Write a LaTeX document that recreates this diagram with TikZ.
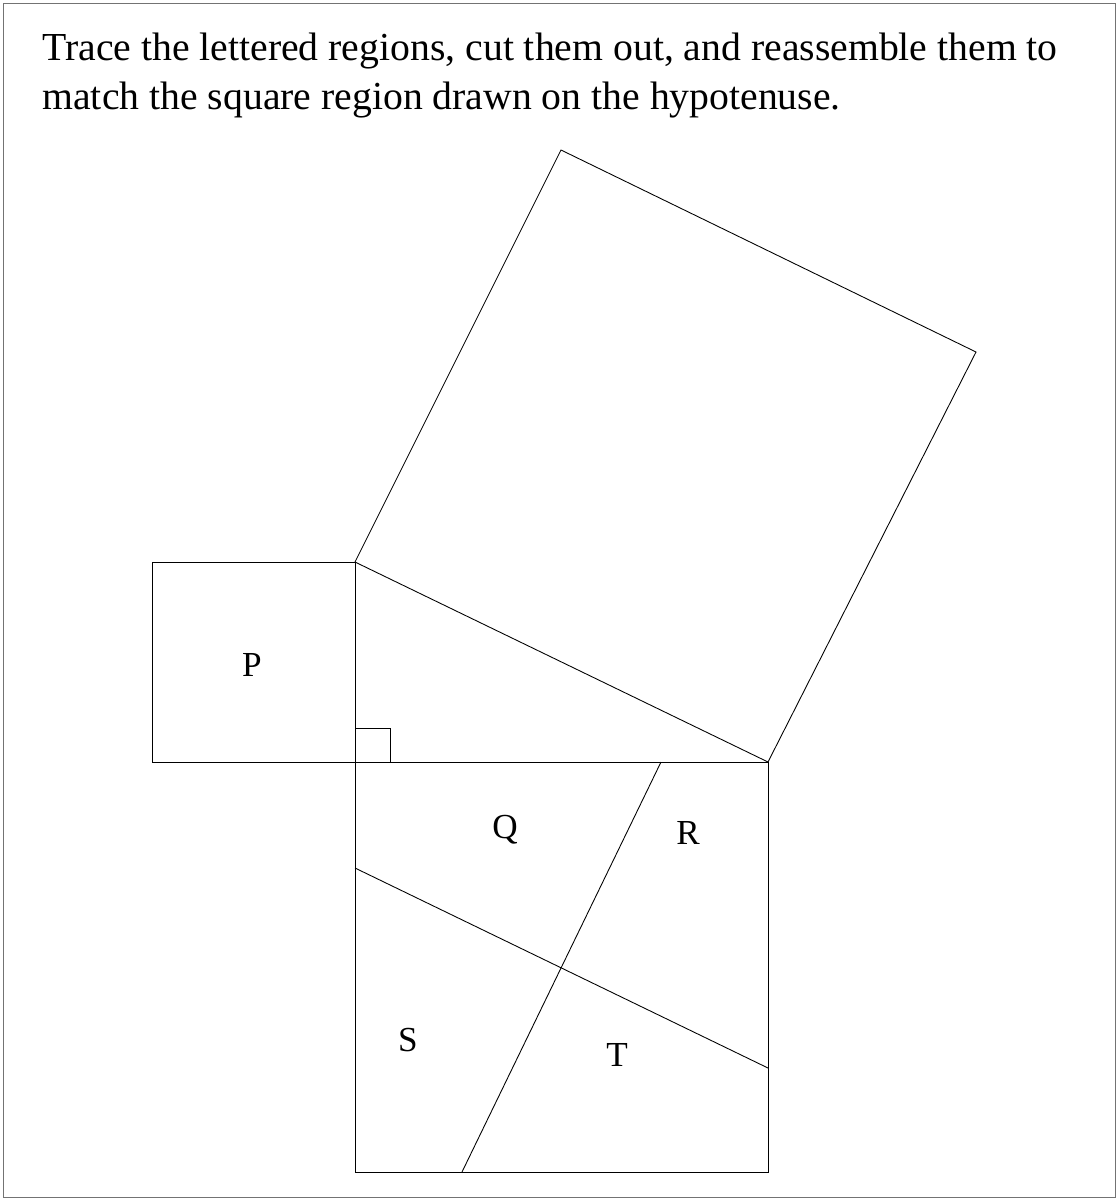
\documentclass[tikz,border=0pt]{standalone}
\usepackage{fontspec}
\setmainfont{Liberation Serif}
\begin{document}
\begin{tikzpicture}[x=0.02cm,y=-0.02cm,line width=0.5pt]

            \useasboundingbox (0,0) rectangle (1118,1200);
            \draw[black!55] (3,3) rectangle (1115,1197);

            \node[anchor=north west, align=left, inner sep=0pt, font=\fontsize{22.6}{27.4}\selectfont] (task) at (42,33)
                {Trace the lettered regions, cut them out, and reassemble them to\\match the square region drawn on the hypotenuse.};

            % triangle and hypotenuse square
            \coordinate (C) at (355,762); \coordinate (A) at (355,562); \coordinate (B) at (768,762);
            \coordinate (D) at (561,150); \coordinate (E) at (976,352);
            \draw (A) -- (B) -- (E) -- (D) -- cycle;

            % small square and big square
            \coordinate (P1) at (152,562); \coordinate (P2) at (152,762);
            \coordinate (F) at (768,1172); \coordinate (G) at (355,1172);
            \draw (A) -- (P1) -- (P2) -- (B) -- (F) -- (G) -- (A);
            \draw (355,728) -- (390,728) -- (390,762);

            % cuts through the centre
            \coordinate (K1) at (355,868); \coordinate (K2) at (768,1068);
            \coordinate (L1) at (661,762); \coordinate (L2) at (462,1172);
            \draw (K1) -- (K2); \draw (L1) -- (L2);

            \foreach \lab/\x/\y in {P/252/665, Q/505/830, R/688/833, S/408/1040, T/617/1055}
                \node[font=\fontsize{20}{24}\selectfont] (lab\lab) at (\x,\y) {\lab};
        \end{tikzpicture}
\end{document}
